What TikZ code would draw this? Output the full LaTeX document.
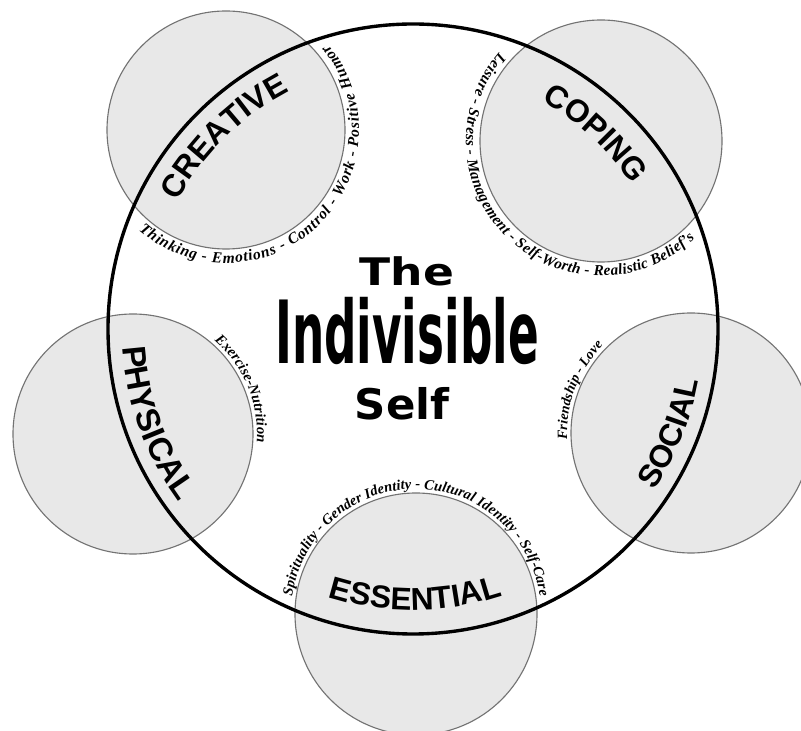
\documentclass[tikz,border=0pt]{standalone}
\usepackage{fontspec}
\setmainfont{Liberation Serif}
\newfontfamily\labelfont{Liberation Sans}
\newfontfamily\titlefont{DejaVu Sans}
\usepackage{graphicx}
\usetikzlibrary{decorations.text}

\newcommand{\bigword}[1]{\labelfont\bfseries\fontsize{#1}{#1}\selectfont}
\newcommand{\smallword}[1]{\bfseries\itshape\fontsize{#1}{#1}\selectfont}

\begin{document}
\begin{tikzpicture}[x=0.025cm, y=0.025cm,
  petal/.style={draw=black!55, fill=black!9, line width=0.8pt},
  ring/.style={draw=black, line width=2.4pt},
  bigtext/.style 2 args={decorate, decoration={text along path, text align=center, text={|\bigword{#1}|#2}}},
  smalltext/.style 2 args={decorate, decoration={text along path, text align=fit to path, text={|\smallword{#1}|#2}}}]
\useasboundingbox (0,0) rectangle (801,730);
\coordinate (self) at (413,401);
\coordinate (creative) at (226,600);
\coordinate (coping) at (601,589);
\coordinate (physical) at (133,296);
\coordinate (social) at (691,297);
\coordinate (essential) at (416,116);
% the five dimensions
\draw[petal] (creative) circle[radius=119];
\draw[petal] (coping) circle[radius=121];
\draw[petal] (physical) circle[radius=120];
\draw[petal] (social) circle[radius=120];
\draw[petal] (essential) circle[radius=121];
\draw[ring] (self) circle[radius=305];
% names on the ring
\path[bigtext={22.5}{CREATIVE}] ([shift={(164:268)}]self) arc[start angle=164, end angle=105, radius=268];
\path[bigtext={22.5}{COPING}] ([shift={(77:262)}]self) arc[start angle=77, end angle=17, radius=262];
\path[bigtext={23.5}{PHYSICAL}] ([shift={(170:291)}]self) arc[start angle=170, end angle=230, radius=291];
\path[bigtext={22.5}{SOCIAL}] ([shift={(-52:290)}]self) arc[start angle=-52, end angle=8, radius=290];
\path[bigtext={22.5}{ESSENTIAL}] ([shift={(240:281)}]self) arc[start angle=240, end angle=301, radius=281];
% components round each circle
\path[smalltext={11}{Thinking - Emotions - Control - Work - Positive Humor}]
  ([shift={(229:133)}]creative) arc[start angle=229, end angle=400, radius=133];
\path[smalltext={10.8}{Leisure - Stress - Management - Self-Worth - Realistic Belief's}]
  ([shift={(139:135)}]coping) arc[start angle=139, end angle=314, radius=135];
\path[smalltext={10.4}{Exercise-Nutrition}]
  ([shift={(49:124)}]physical) arc[start angle=49, end angle=-4, radius=124];
\path[smalltext={10}{Friendship - Love}]
  ([shift={(183:124)}]social) arc[start angle=183, end angle=136, radius=124];
\path[smalltext={10.3}{Spirituality - Gender Identity - Cultural Identity - Self-Care}]
  ([shift={(172:125)}]essential) arc[start angle=172, end angle=8, radius=125];
% title
\node[inner sep=0pt] (the) at (407,459) {\scalebox{1.2}[1]{\titlefont\bfseries\fontsize{27}{27}\selectfont The}};
\node[inner sep=0pt] (indivisible) at (407,399) {\scalebox{0.52}[1]{\titlefont\bfseries\fontsize{62}{62}\selectfont Indivisible}};
\node[inner sep=0pt] (selfword) at (402,326) {\scalebox{1.03}[1]{\titlefont\bfseries\fontsize{30}{30}\selectfont Self}};
\end{tikzpicture}
\end{document}
